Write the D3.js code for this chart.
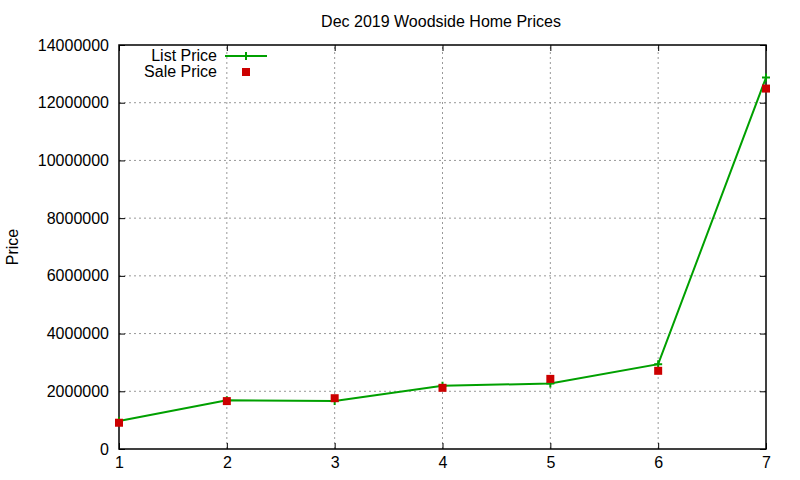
<!DOCTYPE html>
<html>
<head>
<meta charset="utf-8">
<script src="https://cdn.jsdelivr.net/npm/d3@7"></script>
<style>
  body { margin: 0; background: #fff; }
  svg { display: block; }
  text { font-family: "Liberation Sans", Arial, sans-serif; fill: #000; }
</style>
</head>
<body>
<script>
// home index on the x axis
var homes = [1, 2, 3, 4, 5, 6, 7];
// list and sale prices
var listPrice = [970000, 1690000, 1660000, 2190000, 2270000, 2940000, 12870000];
var salePrice = [910000, 1660000, 1760000, 2120000, 2430000, 2710000, 12490000];
var yTicks = [0, 2000000, 4000000, 6000000, 8000000, 10000000, 12000000, 14000000];

var w = 800, h = 480;
var m = {left: 119, right: 34, top: 45, bottom: 31};
var fs = "16px";

var svg = d3.select("body").append("svg")
  .attr("width", w)
  .attr("height", h);

var x = d3.scaleLinear().domain([1, 7]).range([m.left, w - m.right]);
var y = d3.scaleLinear().domain([0, 14000000]).range([h - m.bottom, m.top]);

var green = "#00a000", red = "#cc0000";

// grid
svg.append("g").selectAll("line")
  .data(homes.slice(1, -1))
  .enter().append("line")
  .attr("x1", function(d) { return x(d); })
  .attr("x2", function(d) { return x(d); })
  .attr("y1", y(0)).attr("y2", y(14000000))
  .attr("stroke", "#999").attr("stroke-dasharray", "2,3");

svg.append("g").selectAll("line")
  .data(yTicks.slice(1, -1))
  .enter().append("line")
  .attr("x1", x(1)).attr("x2", x(7))
  .attr("y1", function(d) { return y(d); })
  .attr("y2", function(d) { return y(d); })
  .attr("stroke", "#999").attr("stroke-dasharray", "2,3");

// axes, ticks pointing inward like gnuplot
var axB = svg.append("g")
  .attr("transform", "translate(0," + y(0) + ")")
  .call(d3.axisBottom(x).tickValues(homes).tickSize(-6).tickPadding(8).tickFormat(d3.format("d")));
var axL = svg.append("g")
  .attr("transform", "translate(" + x(1) + ",0)")
  .call(d3.axisLeft(y).tickValues(yTicks).tickSize(-6).tickPadding(10).tickFormat(d3.format("d")));
var axT = svg.append("g")
  .attr("transform", "translate(0," + y(14000000) + ")")
  .call(d3.axisTop(x).tickValues(homes).tickSize(-6).tickFormat(""));
var axR = svg.append("g")
  .attr("transform", "translate(" + x(7) + ",0)")
  .call(d3.axisRight(y).tickValues(yTicks).tickSize(-6).tickFormat(""));

[axB, axL, axT, axR].forEach(function(g) {
  g.select(".domain").remove();
  g.selectAll("line").attr("stroke", "#000");
  g.selectAll("text").style("font-size", fs).style("font-family", "Liberation Sans, Arial, sans-serif");
});

// border
svg.append("rect")
  .attr("x", x(1)).attr("y", y(14000000))
  .attr("width", x(7) - x(1)).attr("height", y(0) - y(14000000))
  .attr("fill", "none").attr("stroke", "#000").attr("stroke-width", 1.5);

// list price line
var line = d3.line()
  .x(function(d, i) { return x(homes[i]); })
  .y(function(d) { return y(d); });

svg.append("path")
  .datum(listPrice)
  .attr("d", line)
  .attr("fill", "none")
  .attr("stroke", green)
  .attr("stroke-width", 2);

svg.append("g").selectAll("path")
  .data(listPrice)
  .enter().append("path")
  .attr("d", function(d, i) {
    var cx = x(homes[i]), cy = y(d);
    return "M" + (cx - 4) + "," + cy + "H" + (cx + 4) + "M" + cx + "," + (cy - 4) + "V" + (cy + 4);
  })
  .attr("stroke", green).attr("stroke-width", 2);

// sale price squares
svg.append("g").selectAll("rect")
  .data(salePrice)
  .enter().append("rect")
  .attr("x", function(d, i) { return x(homes[i]) - 4; })
  .attr("y", function(d) { return y(d) - 4; })
  .attr("width", 8).attr("height", 8)
  .attr("fill", red);

// title and label
svg.append("text")
  .attr("x", 441).attr("y", 27)
  .attr("text-anchor", "middle")
  .style("font-size", "16px")
  .text("Dec 2019 Woodside Home Prices");

svg.append("text")
  .attr("transform", "translate(18,247) rotate(-90)")
  .attr("text-anchor", "middle")
  .style("font-size", fs)
  .text("Price");

// legend
var legend = svg.append("g");
legend.append("text")
  .attr("x", 217).attr("y", 61)
  .attr("text-anchor", "end")
  .style("font-size", fs)
  .text("List Price");
legend.append("line")
  .attr("x1", 225).attr("x2", 267).attr("y1", 56).attr("y2", 56)
  .attr("stroke", green).attr("stroke-width", 2);
legend.append("path")
  .attr("d", "M242,56H250M246,52V60")
  .attr("stroke", green).attr("stroke-width", 2);
legend.append("text")
  .attr("x", 217).attr("y", 77)
  .attr("text-anchor", "end")
  .style("font-size", fs)
  .text("Sale Price");
legend.append("rect")
  .attr("x", 242).attr("y", 68).attr("width", 8).attr("height", 8)
  .attr("fill", red);
</script>
</body>
</html>
